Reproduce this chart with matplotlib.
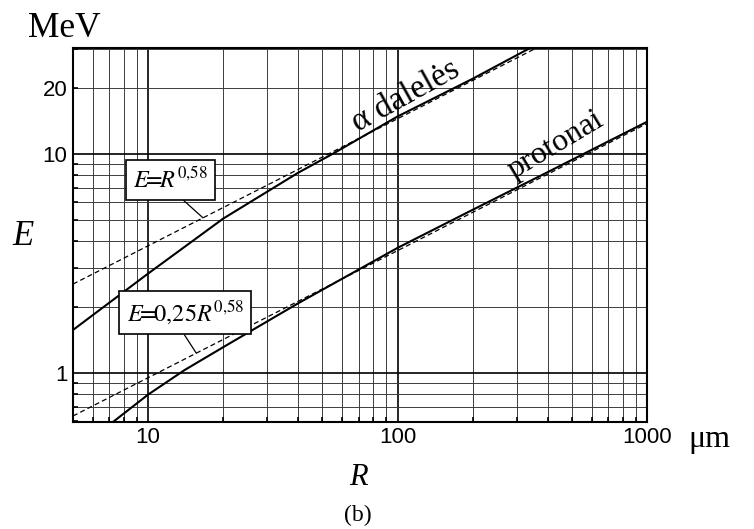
import numpy as np
import matplotlib.pyplot as plt
from matplotlib.ticker import FuncFormatter, LogLocator, NullFormatter

plt.rcParams['mathtext.fontset'] = 'stix'

# Measured range-energy curves (R in um, E in MeV)
alpha_R = [5, 10, 20, 40, 55, 100, 200, 340, 400]
alpha_E = [1.57, 2.84, 5.06, 8.2, 10.0, 14.8, 22.0, 30.4, 33.3]

proton_R = [7.0, 10, 14, 20, 40, 100, 200, 400, 1000]
proton_E = [0.58, 0.796, 1.03, 1.31, 2.08, 3.72, 5.55, 8.25, 14.0]

# Power-law fits E = k * R^0.58
fit_exp = 0.58
fit_k = [1.0, 0.25]
fit_R = np.array([5, 1000])

serif = ['Liberation Serif', 'DejaVu Serif']
sans = ['Liberation Sans', 'DejaVu Sans']

fig = plt.figure(figsize=(7.54, 5.29), dpi=100)
ax = fig.add_axes([73/754, 1-421.5/529, (647-73)/754, (421.5-48)/529])
ax.set_xscale('log')
ax.set_yscale('log')
ax.set_xlim(5, 1000)
ax.set_ylim(0.6, 30.4)

ax.xaxis.set_major_locator(LogLocator(base=10))
ax.xaxis.set_minor_locator(LogLocator(base=10, subs=np.arange(2, 10)))
ax.yaxis.set_major_locator(LogLocator(base=10))
ax.yaxis.set_minor_locator(LogLocator(base=10, subs=np.arange(2, 10)))
ax.xaxis.set_major_formatter(FuncFormatter(lambda v, p: '%g' % v))
ax.yaxis.set_major_formatter(FuncFormatter(lambda v, p: '%g' % v))
ax.xaxis.set_minor_formatter(NullFormatter())
ax.yaxis.set_minor_formatter(FuncFormatter(lambda v, p: '20' if abs(v - 20) < 1e-6 else ''))

ax.grid(which='minor', color='#3c3c3c', lw=0.7)
ax.grid(which='major', color='k', lw=1.2)
ax.tick_params(which='major', length=0, pad=4, labelsize=16)
ax.tick_params(which='minor', direction='in', length=3.5, width=1.2, pad=4, labelsize=16)
for lab in ax.get_xticklabels(which='both') + ax.get_yticklabels(which='both'):
    lab.set_family(sans)
for s in ax.spines.values():
    s.set_linewidth(1.5)

ax.plot(alpha_R, alpha_E, color='k', lw=1.5, solid_joinstyle='miter')
ax.plot(proton_R, proton_E, color='k', lw=1.5, solid_joinstyle='miter')
for k in fit_k:
    ax.plot(fit_R, k * fit_R**fit_exp, color='k', lw=0.9, ls=(0, (4, 2.5)))

box = dict(boxstyle='square,pad=0.3', fc='w', ec='k', lw=1.2)
ax.annotate(r'$E\!\!=\!\!R^{0{,}58}$', xy=(16.6, 16.6**fit_exp), xytext=(12.3, 7.61),
            textcoords='data', ha='center', va='center', fontsize=17.5, bbox=box, zorder=5,
            arrowprops=dict(arrowstyle='-', color='k', lw=0.9, shrinkA=0, shrinkB=0,
                            relpos=(0.56, 0)))
ax.annotate(r'$E\!\!=\!\!0{,}25R^{0{,}58}$', xy=(15.6, 0.25*15.6**fit_exp), xytext=(14.1, 1.88),
            textcoords='data', ha='center', va='center', fontsize=17.5, bbox=box, zorder=5,
            arrowprops=dict(arrowstyle='-', color='k', lw=0.9, shrinkA=0, shrinkB=0,
                            relpos=(0.45, 0)))

ax.text(112, 17.0, 'α dalelės', rotation=29, rotation_mode='anchor', ha='center',
        va='baseline', family=serif, fontsize=24)
ax.text(447, 10.2, 'protonai', rotation=31, rotation_mode='anchor', ha='center',
        va='baseline', family=serif, fontsize=23)

fig.text(28/754, 1-37/529, 'MeV', family=serif, fontsize=25.5, va='baseline', ha='left')
fig.text(688/754, 1-446.7/529, 'μm', family=serif, fontsize=23, va='baseline', ha='left')
fig.text(12/754, 1-245/529, 'E', family=serif, style='italic', fontsize=25, va='baseline', ha='left')
fig.text(358/754, 1-485/529, 'R', family=serif, style='italic', fontsize=22, va='baseline', ha='center')
fig.text(358/754, 1-521/529, '(b)', family=serif, fontsize=17, va='baseline', ha='center')

fig.savefig('out.png', dpi=100)
